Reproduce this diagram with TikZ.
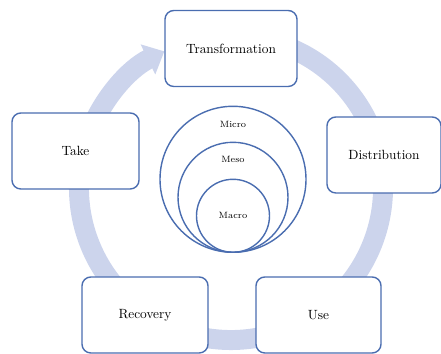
\documentclass[tikz,border=0pt]{standalone}
\usepackage{xcolor}
\usepackage{tikz}
\usetikzlibrary{arrows.meta, positioning}

\definecolor{ringblue}{HTML}{CCD4EC}
\definecolor{boxblue}{HTML}{4A6DB0}

\begin{document}
\begin{tikzpicture}[x=0.025cm, y=0.025cm,
		stagebox/.style={draw=boxblue, line width=1pt, fill=white, rounded corners=0.22cm,
			font=\fontsize{9.5}{11}\selectfont},
		level/.style={draw=boxblue, line width=1pt, circle, inner sep=0pt},
		levellabel/.style={font=\fontsize{6.5}{8}\selectfont}]
	\useasboundingbox (0,0) rectangle (441,354);

	% Ring
	\coordinate (ringstart) at ({231+152*cos(70)},{166+152*sin(70)});
	\draw[ringblue, line width=14.2pt, -{Triangle[width=23pt, length=13pt]}]
		(ringstart) arc[start angle=70, end angle=-244, radius=152];

	% Kaesten
	\foreach \name/\x/\y/\w/\txt in {
		trans/231/305.5/132/{Transformation},
		take/75.5/203/127/{Take},
		dist/384/199/114/{Distribution},
		rec/145/39/126/{Recovery},
		use/318.5/39/125/{Use}
	}{
		\node[stagebox, minimum width=\w*0.025cm, minimum height=76*0.025cm] (\name) at (\x,\y) {\txt};
	}

	% Kreise
	\coordinate (base) at (233,101);
	\node[level, minimum size=146*0.025cm, anchor=south] (micro) at (base) {};
	\node[level, minimum size=110*0.025cm, anchor=south] (meso) at (base) {};
	\node[level, minimum size=73*0.025cm, anchor=south] (macro) at (base) {};
	\node[levellabel, below=0.475cm of micro.north, anchor=center] (microtxt) {Micro};
	\node[levellabel, below=0.45cm of meso.north, anchor=center] (mesotxt) {Meso};
	\node[levellabel] (macrotxt) at (macro.center) {Macro};
\end{tikzpicture}
\end{document}
